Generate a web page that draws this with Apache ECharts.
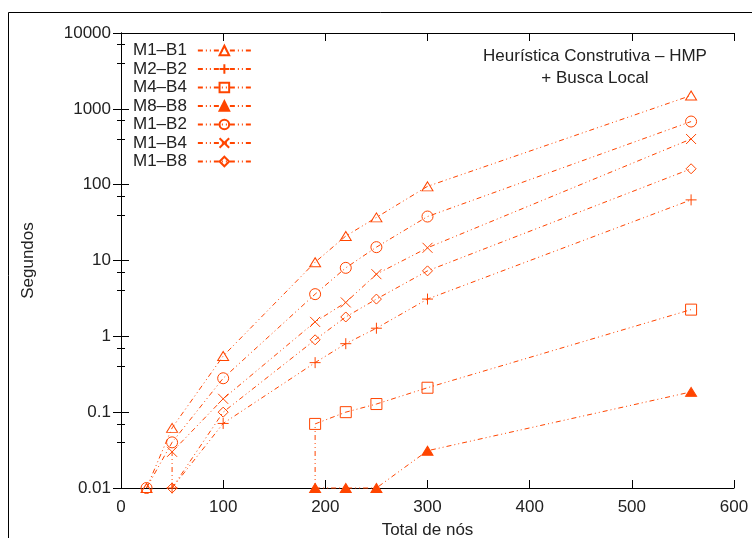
<!DOCTYPE html>
<html><head><meta charset="utf-8">
<script src="https://cdn.jsdelivr.net/npm/echarts@6/dist/echarts.min.js"></script>
<style>html,body{margin:0;padding:0;background:#fff}#c{width:752px;height:538px}</style>
</head><body><div id="c"></div>
<script>
// ---- data ----
const seriesNames = ['M1–B1','M2–B2','M4–B4','M8–B8','M1–B2','M1–B4','M1–B8'];
const xM1B1 = [25,50,100,190,220,250,300,558];
const yM1B1 = [0.01,0.062,0.55,9.5,21,37,95,1500];
const xM2B2 = [50,100,190,220,250,300,558];
const yM2B2 = [0.01,0.071,0.45,0.8,1.28,3.1,63];
const xM4B4 = [190,190,220,250,300,558];
const yM4B4 = [0.01,0.07,0.1,0.128,0.21,2.25];
const xM8B8 = [190,220,250,300,558];
const yM8B8 = [0.01,0.01,0.01,0.031,0.185];
const xM1B2 = [25,50,100,190,220,250,300,558];
const yM1B2 = [0.01,0.04,0.28,3.6,8,15,38,680];
const xM1B4 = [50,50,100,190,220,250,300,558];
const yM1B4 = [0.01,0.03,0.15,1.55,2.8,6.6,14.7,400];
const xM1B8 = [50,100,190,220,250,300,558];
const yM1B8 = [0.01,0.1,0.9,1.8,3.1,7.3,162];
// indexes of points that carry no marker (line joins only)
const noMarkM4B4 = [0];
const noMarkM1B4 = [0];
const xTicks = [0,100,200,300,400,500,600];
const yTicks = [0.01,0.1,1,10,100,1000,10000];
const titleLines = ['Heurística Construtiva – HMP','+ Busca Local'];

// ---- styling ----
const C = '#ff4500';
const FONT = 'Liberation Sans';
const TXT = '#222';
const FS = 17;
const dash = [5,3,1,3,1,3];
const PLUS = 'path://M5,0L5,10M0,5L10,5';
const CROSS = 'path://M0,0L10,10M10,0L0,10';

function pts(xs, ys, hidden) {
  return xs.map((x,i) => (hidden && hidden.indexOf(i) >= 0)
    ? {value:[x, ys[i]], symbol:'none'} : [x, ys[i]]);
}
function mk(name, data, symbol, size, filled) {
  return {
    name, type:'line', data, symbol, symbolSize:size, showSymbol:true,
    clip:false, animation:false,
    lineStyle:{color:C, width:1, type:dash},
    itemStyle:{color: filled ? C : 'rgba(255,255,255,0)', borderColor:C, borderWidth:1},
    emphasis:{disabled:true}
  };
}
const series = [
  mk(seriesNames[0], pts(xM1B1,yM1B1), 'triangle', [11,9], false),
  mk(seriesNames[1], pts(xM2B2,yM2B2), PLUS, 11, false),
  mk(seriesNames[2], pts(xM4B4,yM4B4,noMarkM4B4), 'rect', 11, false),
  mk(seriesNames[3], pts(xM8B8,yM8B8), 'triangle', [11,9], true),
  mk(seriesNames[4], pts(xM1B2,yM1B2), 'circle', 11, false),
  mk(seriesNames[5], pts(xM1B4,yM1B4,noMarkM1B4), CROSS, 10, false),
  mk(seriesNames[6], pts(xM1B8,yM1B8), 'diamond', [10,10], false)
];

const axLine = {lineStyle:{color:'#000', width:1}};
const xBase = {
  type:'value', min:xTicks[0], max:xTicks[xTicks.length-1], interval:xTicks[1]-xTicks[0],
  axisLine:axLine, splitLine:{show:false},
  axisTick:{inside:true, length:8, lineStyle:{color:'#000'}}
};
const yBase = {
  type:'log', logBase:10, min:yTicks[0], max:yTicks[yTicks.length-1],
  axisLine:axLine, splitLine:{show:false},
  axisTick:{inside:true, length:8, lineStyle:{color:'#000'}},
  minorTick:{show:true, splitNumber:3, length:4, lineStyle:{color:'#000'}}
};

const chart = echarts.init(document.getElementById('c'), null, {renderer:'canvas'});
chart.setOption({
  animation:false,
  backgroundColor:'#fff',
  grid:{left:121, right:18, top:33, bottom:50, containLabel:false, outerBoundsMode:'none'},
  xAxis:[
    Object.assign({}, xBase, {position:'bottom',
      axisLabel:{color:TXT, fontSize:FS, fontFamily:FONT, margin:11},
      name:'Total de nós', nameLocation:'middle', nameGap:34,
      nameTextStyle:{color:TXT, fontSize:FS, fontFamily:FONT}}),
    Object.assign({}, xBase, {position:'top', axisLabel:{show:false}})
  ],
  yAxis:[
    Object.assign({}, yBase, {position:'left',
      axisLabel:{color:TXT, fontSize:FS, fontFamily:FONT, margin:10,
        formatter: v => String(+(+v).toPrecision(6))},
      name:'Segundos', nameLocation:'middle', nameGap:84, nameRotate:90,
      nameTextStyle:{color:TXT, fontSize:FS, fontFamily:FONT}}),
    Object.assign({}, yBase, {position:'right', axisLabel:{show:false}})
  ],
  legend:{
    orient:'vertical', left:133, top:42, padding:0, itemGap:1.5,
    itemWidth:53, itemHeight:12, align:'right',
    textStyle:{color:TXT, fontSize:FS, fontFamily:FONT, padding:[0,6,0,0]},
    data:seriesNames, selectedMode:false
  },
  graphic:[
    {type:'rect', shape:{x:8.5, y:12.5, width:900, height:700}, style:{fill:'none', stroke:'#000', lineWidth:1}, silent:true},
    {type:'text', x:595, y:56, style:{text:titleLines[0], fill:TXT, font:'17px "Liberation Sans"', textAlign:'center', textVerticalAlign:'middle'}},
    {type:'text', x:595, y:78, style:{text:titleLines[1], fill:TXT, font:'17px "Liberation Sans"', textAlign:'center', textVerticalAlign:'middle'}}
  ],
  series
});
</script></body></html>
